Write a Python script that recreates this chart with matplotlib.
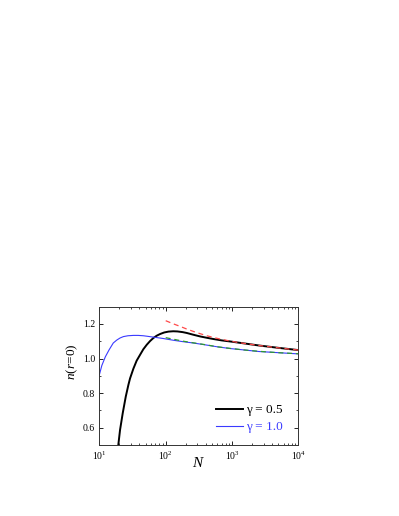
import matplotlib
matplotlib.use("Agg")
import matplotlib.pyplot as plt
from matplotlib.ticker import LogLocator, MultipleLocator, NullFormatter

plt.rcParams['font.family'] = ['Liberation Serif', 'DejaVu Serif']
plt.rcParams['mathtext.fontset'] = 'custom'
plt.rcParams['mathtext.rm'] = 'Liberation Serif'
plt.rcParams['mathtext.it'] = 'Liberation Serif:italic'

# gamma = 0.5 (black)
N_g05 = [19.3, 20.5, 22.5, 25.0, 27.4, 29.0, 32.6, 36.5, 41.1, 46.0, 51.8, 58.0, 65.2, 73.0, 82.2, 95, 110, 130, 150, 180, 208, 260, 330, 420, 524, 700, 933, 1500, 2500, 5000, 10000]
n_g05 = [0.50, 0.587, 0.684, 0.780, 0.848, 0.885, 0.942, 0.988, 1.022, 1.054, 1.080, 1.101, 1.119, 1.132, 1.142, 1.151, 1.156, 1.158, 1.157, 1.153, 1.148, 1.138, 1.128, 1.120, 1.113, 1.105, 1.099, 1.088, 1.076, 1.062, 1.049]

# gamma = 1.0 (blue)
N_g10 = [10, 10.9, 12.3, 14.0, 16.2, 18.3, 20.5, 23, 27, 32.6, 38.5, 46, 55, 65.2, 78, 92, 130, 180, 261, 400, 600, 933, 1500, 2500, 5000, 10000]
n_g10 = [0.906, 0.960, 1.010, 1.050, 1.090, 1.107, 1.119, 1.127, 1.132, 1.134, 1.134, 1.132, 1.128, 1.124, 1.120, 1.116, 1.106, 1.098, 1.090, 1.079, 1.068, 1.058, 1.050, 1.041, 1.034, 1.027]

# asymptotic (red dashed, gamma=0.5)
N_asym05 = [100, 130, 165, 210, 261, 330, 416, 525, 660, 1000, 1500, 2500, 5000, 10000]
n_asym05 = [1.219, 1.201, 1.186, 1.170, 1.157, 1.144, 1.132, 1.122, 1.113, 1.099, 1.088, 1.076, 1.062, 1.049]

# asymptotic (green dashed, gamma=1.0)
N_asym10 = [100, 180, 261, 400, 600, 933, 1500, 2500, 5000, 10000]
n_asym10 = [1.121, 1.101, 1.091, 1.080, 1.068, 1.059, 1.050, 1.042, 1.034, 1.028]

labels = ['γ = 0.5', 'γ = 1.0']

fig = plt.figure(figsize=(3.99, 5.16), dpi=100)
ax = fig.add_axes([0.249, 0.1376, 0.499, 0.268])

l1, = ax.plot(N_g05, n_g05, color='black', lw=1.4, label=labels[0])
l2, = ax.plot(N_g10, n_g10, color='#3a3aff', lw=0.8, label=labels[1])
ax.plot(N_asym05, n_asym05, color='#ff4a4a', lw=0.9, ls=(0, (4, 3)))
ax.plot(N_asym10, n_asym10, color='#2e9a2e', lw=0.9, ls=(0, (4, 3)))

ax.set_xscale('log')
ax.set_xlim(10, 1e4)
ax.set_ylim(0.5, 1.3)
ax.set_yticks([0.6, 0.8, 1.0, 1.2])
ax.yaxis.set_minor_locator(MultipleLocator(0.1))
ax.xaxis.set_major_locator(LogLocator(base=10, numticks=10))
ax.xaxis.set_minor_locator(LogLocator(base=10, subs=range(2, 10), numticks=20))
ax.xaxis.set_minor_formatter(NullFormatter())

ax.tick_params(which='both', direction='in', top=True, right=True, labelsize=7, pad=3)
ax.tick_params(which='major', length=3, width=0.6)
ax.tick_params(which='minor', length=1.6, width=0.5)
for s in ax.spines.values():
    s.set_linewidth(0.7)
    s.set_color('#333333')

ax.set_xlabel(r'$N$', fontsize=11, labelpad=-4)
ax.set_ylabel(r'$n(r\!=\!0)$', fontsize=9.5)
ax.yaxis.set_label_coords(-0.095, 0.6)

leg = ax.legend(handles=[l1, l2], loc='lower left', frameon=False, fontsize=9.5,
                handlelength=2.05, handletextpad=0.2, borderaxespad=0.0,
                labelspacing=0.35, borderpad=0.0,
                bbox_to_anchor=(0.588, 0.085))
for t, c in zip(leg.get_texts(), ['black', '#3a3aff']):
    t.set_color(c)

fig.savefig('out.png', dpi=100)
